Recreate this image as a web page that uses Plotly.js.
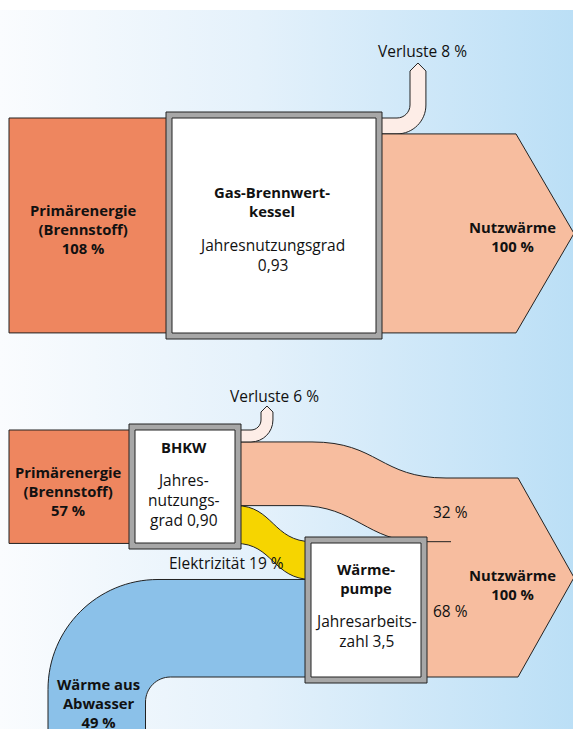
<!DOCTYPE html>
<html>
<head>
<meta charset="utf-8">
<script src="https://cdn.plot.ly/plotly-3.0.1.min.js"></script>
<style>
  html, body { margin: 0; padding: 0; background: #ffffff; }
  #wrap { position: relative; width: 573px; height: 729px; overflow: hidden; }
  #bg { position: absolute; left: 0; top: 10px; width: 573px; height: 719px;
        background: linear-gradient(to right, #fafcfe 0%, #e4f1fb 45%, #bbdff6 100%); }
  #chart { position: absolute; left: 0; top: 0; width: 573px; height: 729px; }
</style>
</head>
<body>
<div id="wrap"><div id="bg"></div><div id="chart"></div></div>
<script>
// ---------- data ----------
// Gas-Brennwertkessel (top diagram): flows in % of Nutzwärme
const topFlowNames  = ["Primärenergie (Brennstoff)", "Nutzwärme", "Verluste"];
const topFlowValues = [108, 100, 8];
const topEfficiency = 0.93;              // Jahresnutzungsgrad

// BHKW + Wärmepumpe (bottom diagram)
const bottomFlowNames  = ["Primärenergie (Brennstoff)", "Verluste", "Nutzwärme BHKW",
                          "Elektrizität", "Wärme aus Abwasser", "Nutzwärme Wärmepumpe", "Nutzwärme"];
const bottomFlowValues = [57, 6, 32, 19, 49, 68, 100];
const bhkwEfficiency = 0.90;             // Jahresnutzungsgrad
const wpCop = 3.5;                       // Jahresarbeitszahl

// ---------- helpers ----------
const K = 1.99;                          // px per %
const KAP = 0.5523;
const fmt = v => String(v).replace('.', ',');
const fmt2 = v => v.toFixed(2).replace('.', ',');
const PCT = ' %';
const LINE = '#222222';
const C_PRIM = '#ee865f', C_NUTZ = '#f7bd9f', C_LOSS = '#fdede7',
      C_YEL = '#f6d500', C_BLUE = '#8bc1e9', C_GRAY = '#a7a7a7';
const FONT = 'Open Sans, Noto Sans, sans-serif';

const shapes = [];
function path(d, fill, w) {
  shapes.push({type: 'path', xref: 'x', yref: 'y', path: d, fillcolor: fill,
               line: {color: LINE, width: w === undefined ? 1 : w}, layer: 'above'});
}
function rect(x0, y0, x1, y1, fill, w) {
  shapes.push({type: 'rect', xref: 'x', yref: 'y', x0, y0, x1, y1, fillcolor: fill,
               line: {color: LINE, width: w === undefined ? 1 : w}, layer: 'above'});
}
function box(x0, y0, x1, y1) {
  rect(x0, y0, x1, y1, C_GRAY);
  rect(x0 + 6, y0 + 6, x1 - 6, y1 - 6, '#ffffff');
}
// loss pipe: horizontal band [yTop, yTop+t] from xs, bends up at vertical [xi, xi+t], tip at yTip
function lossPipe(xs, yTop, t, xi, cy, yShoulder, yTip) {
  const r = yTop - cy;           // inner radius
  const cxx = xi - r;
  const R = r + t;
  const xo = xi + t;
  const d = `M ${xs} ${yTop} L ${cxx} ${yTop} ` +
    `C ${cxx + r * KAP} ${yTop} ${xi} ${cy + r * KAP} ${xi} ${cy} ` +
    `L ${xi} ${yShoulder} L ${(xi + xo) / 2} ${yTip} L ${xo} ${yShoulder} L ${xo} ${cy} ` +
    `C ${xo} ${cy + R * KAP} ${cxx + R * KAP} ${cy + R} ${cxx} ${cy + R} ` +
    `L ${xs} ${cy + R} Z`;
  path(d, C_LOSS);
}

const ann = [];
function block(x, y, lines, bold) {
  ann.push({x, y, xref: 'x', yref: 'y', text: lines.map(s => bold ? '<b>' + s + '</b>' : s).join('<br>'),
            showarrow: false, xanchor: 'center', yanchor: 'middle', align: 'center',
            font: {family: FONT, size: bold ? 14.8 : 15.5, color: '#111111'}});
}

// ---------- top diagram ----------
const [tPrim, tNutz, tLoss] = topFlowValues;
const yT = 118;
rect(9, yT, 170, yT + tPrim * K, C_PRIM);
lossPipe(376, yT, tLoss * K, 410, 105, 71, 63);
{
  const y0 = yT + tLoss * K, y1 = y0 + tNutz * K, ym = (y0 + y1) / 2;
  path(`M 376 ${y0} L 516 ${y0} L 574 ${ym} L 516 ${y1} L 376 ${y1} Z`, C_NUTZ);
}
box(166, 112, 382, 339);

block(83, 228.5, ['Primärenergie', '(Brennstoff)', tPrim + PCT], true);
block(272, 201, ['Gas-Brennwert-', 'kessel'], true);
block(272, 255, ['Jahresnutzungsgrad', fmt2(topEfficiency)], false);
block(512, 236, ['Nutzwärme', tNutz + PCT], true);
block(422, 51, ['Verluste ' + tLoss + PCT], false);

// ---------- bottom diagram ----------
const [bPrim, bLoss, bHeat, bEl, bWater, bWpHeat, bTotal] = bottomFlowValues;
const yB = 430;
const yArrowBot = 677;
const yArrowTop = yArrowBot - bTotal * K;
const yWpTop = yArrowBot - bWpHeat * K;           // top of 68 % band
const yBlueTop = yArrowBot - bWater * K;          // top of 49 % band at WP inlet

// Wärme aus Abwasser (blue bend)
{
  const xo = 48, xi = xo + bWater * K;
  const Ro = 110, cxo = xo + Ro, cyo = yBlueTop + Ro;
  const ri = 25, cxi = xi + ri, cyi = yArrowBot + ri;
  path(`M 312 ${yBlueTop} L ${cxo} ${yBlueTop} ` +
       `C ${cxo - Ro * KAP} ${yBlueTop} ${xo} ${cyo - Ro * KAP} ${xo} ${cyo} ` +
       `L ${xo} 745 L ${xi} 745 L ${xi} ${cyi} ` +
       `C ${xi} ${cyi - ri * KAP} ${cxi - ri * KAP} ${yArrowBot} ${cxi} ${yArrowBot} ` +
       `L 312 ${yArrowBot} Z`, C_BLUE);
}
// Elektrizität (yellow)
{
  const y0 = yB + (bLoss + bHeat) * K, y1 = y0 + bEl * K;
  const z0 = yWpTop, z1 = yBlueTop;
  path(`M 236 ${y0} C 273 ${y0} 273 ${z0} 312 ${z0} L 312 ${z1} ` +
       `C 273 ${z1} 273 ${y1} 236 ${y1} Z`, C_YEL);
}
// Nutzwärme (32 % + 68 % + arrow)
{
  const y0 = yB + bLoss * K, y1 = y0 + bHeat * K;
  const ym = (yArrowTop + yArrowBot) / 2;
  path(`M 236 ${y0} L 312 ${y0} C 378 ${y0} 380 ${yArrowTop} 446 ${yArrowTop} ` +
       `L 518 ${yArrowTop} L 574 ${ym} L 518 ${yArrowBot} L 420 ${yArrowBot} L 420 ${yWpTop} ` +
       `C 368 ${yWpTop} 355 ${y1} 300 ${y1} L 236 ${y1} Z`, C_NUTZ);
  shapes.push({type: 'line', xref: 'x', yref: 'y', x0: 420, x1: 451, y0: yWpTop, y1: yWpTop,
               line: {color: LINE, width: 1}, layer: 'above'});
}
lossPipe(236, yB, bLoss * K, 261, 420, 412, 406);
rect(9, yB, 132, yB + bPrim * K, C_PRIM);
box(129, 424, 241, 549);
box(305, 537, 427, 683);

block(68, 490.5, ['Primärenergie', '(Brennstoff)', bPrim + PCT], true);
block(184, 446.5, ['BHKW'], true);
block(184, 499.5, ['Jahres-', 'nutzungs-', 'grad ' + fmt2(bhkwEfficiency)], false);
block(274, 396, ['Verluste ' + bLoss + PCT], false);
block(226, 563, ['Elektrizität ' + bEl + PCT], false);
block(450, 512, [bHeat + PCT], false);
block(450, 611, [bWpHeat + PCT], false);
block(366, 578, ['Wärme-', 'pumpe'], true);
block(366, 631, ['Jahresarbeits-', 'zahl ' + fmt(wpCop)], false);
block(512, 584.5, ['Nutzwärme', bTotal + PCT], true);
block(98, 703, ['Wärme aus', 'Abwasser', bWater + PCT], true);

const layout = {
  width: 573, height: 729,
  margin: {l: 0, r: 0, t: 0, b: 0, pad: 0},
  paper_bgcolor: 'rgba(0,0,0,0)', plot_bgcolor: 'rgba(0,0,0,0)',
  xaxis: {range: [0, 573], visible: false, fixedrange: true},
  yaxis: {range: [729, 0], visible: false, fixedrange: true},
  showlegend: false,
  shapes: shapes,
  annotations: ann
};
Plotly.newPlot('chart', [], layout, {staticPlot: true, displayModeBar: false});
</script>
</body>
</html>
